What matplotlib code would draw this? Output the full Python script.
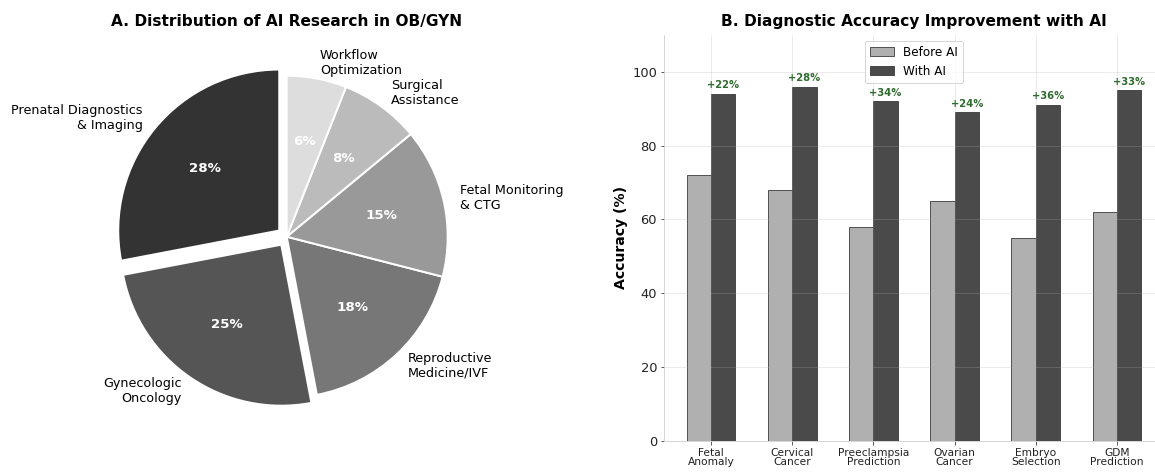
import matplotlib
matplotlib.use('Agg')
import matplotlib.pyplot as plt
import numpy as np

# ---------------- data ----------------
pie_labels = ['Prenatal Diagnostics\n& Imaging', 'Gynecologic\nOncology', 'Reproductive\nMedicine/IVF',
              'Fetal Monitoring\n& CTG', 'Surgical\nAssistance', 'Workflow\nOptimization']
pie_shares = [28, 25, 18, 15, 8, 6]
pie_colors = ['#333333', '#555555', '#777777', '#999999', '#bbbbbb', '#dddddd']
pie_explode = [0.06, 0.06, 0, 0, 0, 0]

tasks = ['Fetal\nAnomaly', 'Cervical\nCancer', 'Preeclampsia\nPrediction', 'Ovarian\nCancer',
         'Embryo\nSelection', 'GDM\nPrediction']
before_ai = [72, 68, 58, 65, 55, 62]
with_ai = [94, 96, 92, 89, 91, 95]

# ---------------- figure ----------------
W, H = 1155, 473
dpi = 72
fig = plt.figure(figsize=(W / dpi, H / dpi), dpi=dpi)

# A. pie
S = 402.5
ax1 = fig.add_axes([(286.7 - S / 2) / W, (236.3 - S / 2) / H, S / W, S / H])
wedges, texts, autotexts = ax1.pie(pie_shares, labels=pie_labels, colors=pie_colors, explode=pie_explode,
                                   startangle=90, autopct='%1.0f%%', pctdistance=0.6, labeldistance=1.1,
                                   wedgeprops=dict(edgecolor='white', linewidth=2),
                                   textprops=dict(fontsize=12.7))
for t in autotexts:
    t.set_color('white')
    t.set_fontweight('bold')
    t.set_fontsize(13.4)
ax1.set_title('A. Distribution of AI Research in OB/GYN', fontsize=15.4, fontweight='bold', pad=9)

# B. bars
ax2 = fig.add_axes([664 / W, 32.3 / H, 500 / W, 405.7 / H])
x = np.arange(len(tasks))
w = 0.3
ax2.bar(x - w / 2, before_ai, w, label='Before AI', color='#b0b0b0', edgecolor='#333333', linewidth=0.8)
ax2.bar(x + w / 2, with_ai, w, label='With AI', color='#4a4a4a', edgecolor='#333333', linewidth=0.8)
for i in range(len(tasks)):
    gain = with_ai[i] - before_ai[i]
    ax2.text(x[i] + w / 2, with_ai[i] + 1, f'+{gain}%', ha='center', va='bottom',
             fontsize=10, fontweight='bold', color='#2e6b2e')

ax2.set_ylim(0, 110)
ax2.set_xticks(x)
ax2.set_xticklabels(tasks, fontsize=10.6, linespacing=0.95)
ax2.tick_params(axis='y', labelsize=13)
ax2.set_ylabel('Accuracy (%)', fontsize=14, fontweight='bold')
ax2.set_title('B. Diagnostic Accuracy Improvement with AI', fontsize=15.4, fontweight='bold', pad=9)
ax2.legend(loc='upper center', fontsize=12)
ax2.grid(True, alpha=0.3)
ax2.spines['top'].set_visible(False)
ax2.spines['right'].set_visible(False)
ax2.spines['left'].set_color('#cccccc')
ax2.spines['bottom'].set_color('#cccccc')
ax2.tick_params(colors='#333333', labelcolor='#222222')

plt.savefig('out.png', dpi=dpi)
